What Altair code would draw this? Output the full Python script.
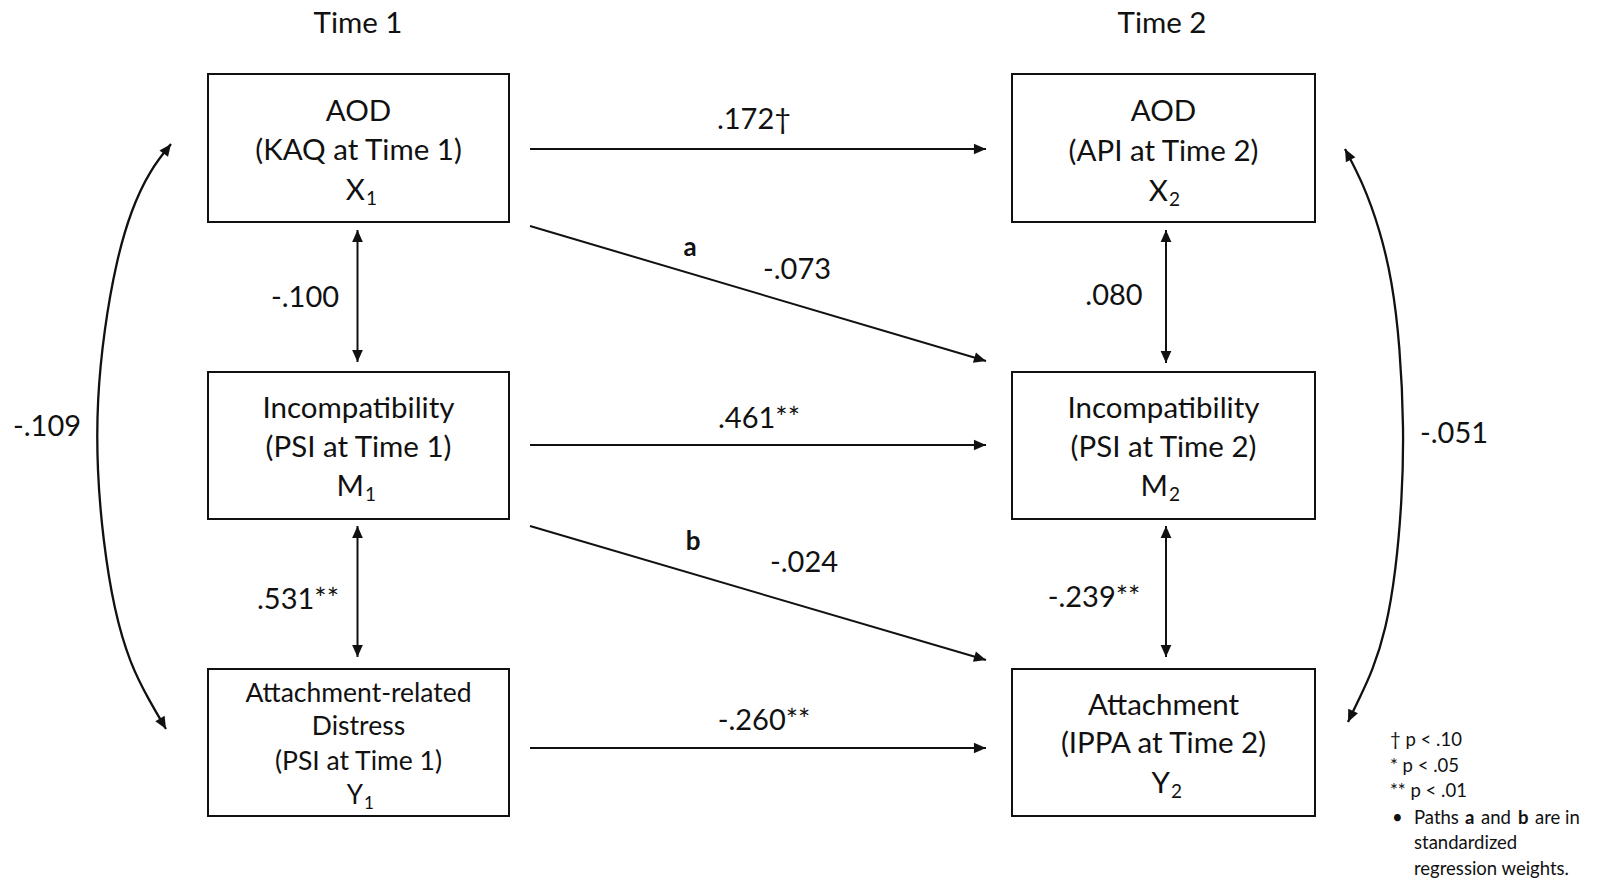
import altair as alt
import pandas as pd
import math

# ---------------- data (text content and coefficients) ----------------
time_labels = ["Time 1", "Time 2"]
box_ids = ["X1", "M1", "Y1", "X2", "M2", "Y2"]
box_lines = [
    ["AOD", "(KAQ at Time 1)"],
    ["Incompatibility", "(PSI at Time 1)"],
    ["Attachment-related", "Distress", "(PSI at Time 1)"],
    ["AOD", "(API at Time 2)"],
    ["Incompatibility", "(PSI at Time 2)"],
    ["Attachment", "(IPPA at Time 2)"],
]
box_symbols = ["X", "M", "Y", "X", "M", "Y"]
box_subscripts = ["1", "1", "1", "2", "2", "2"]

path_labels = [".172†", "-.073", ".461**", "-.024", "-.260**",
               "-.100", ".531**", ".080", "-.239**", "-.109", "-.051"]
path_tags = ["a", "b"]
legend_lines = ["† p < .10", "* p < .05", "** p < .01"]
note_bullet = "•"
note_segments = ["Paths", "a", "and", "b", "are in"]
note_bold = [False, True, False, True, False]
note_more = ["standardized", "regression weights."]

# ---------------- layout (pixel positions in the 1597x880 page) ----------------
W, H = 1581, 872
FONT = "Lato"
INK = "#111111"
TDY = 2  # small vertical nudge for text

box_rects = {
    "X1": (208, 509, 74, 222), "M1": (208, 509, 372, 519), "Y1": (208, 509, 669, 816),
    "X2": (1012, 1315, 74, 222), "M2": (1012, 1315, 372, 519), "Y2": (1012, 1315, 669, 816),
}
box_line_y = {
    "X1": [110, 149], "M1": [407, 446], "Y1": [692, 725, 760],
    "X2": [110, 150], "M2": [407, 446], "Y2": [704, 742],
}
box_sym_y = {"X1": 189, "M1": 485, "Y1": 794, "X2": 190, "M2": 485, "Y2": 782}
box_sym_x = {"X1": 365, "M1": 364, "Y1": 363, "X2": 1168, "M2": 1168, "Y2": 1170}
time_pos = [(358, 22), (1162, 22)]

path_label_pos = [(754, 118), (797, 268), (759, 417), (804, 561), (764, 719),
                  (305, 296), (298, 598), (1114, 294), (1094, 596), (47, 425), (1454, 432)]
tag_pos = [(690, 246), (693, 540)]

# straight arrows: (x1, y1, x2, y2, double-headed)
straight = [
    (530, 149, 986, 149, False),
    (530, 226, 986, 361, False),
    (530, 445, 986, 445, False),
    (530, 526, 986, 660, False),
    (530, 748, 986, 748, False),
    (357.5, 230, 357.5, 362, True),
    (357.5, 526, 357.5, 657, True),
    (1166, 230, 1166, 363, True),
    (1166, 526, 1166, 657, True),
]
# curved correlation arcs (control points read along each arc)
arcs = [
    [(171, 144), (150, 170), (131, 210), (116, 262), (104, 330), (97, 400),
     (97, 470), (103, 540), (114, 610), (130, 664), (150, 702), (166, 729)],
    [(1345, 149), (1363, 183), (1380, 230), (1392, 280), (1400, 345), (1404, 430),
     (1402, 500), (1396, 570), (1386, 630), (1372, 672), (1360, 697), (1348, 722)],
]
arc_head_angles = [(37, 150), (332, 205)]

legend_x = 1390
legend_y = [738, 764, 789]
note_y = [816, 841, 867]
note_x = [1414, 1465, 1481, 1518, 1535]

# ---------------- build tables ----------------
rect_df = pd.DataFrame([
    {"x": r[0], "x2": r[1], "y": r[2], "y2": r[3]} for r in box_rects.values()
])

rule_rows, head_rows = [], []
for (x1, y1, x2, y2, dbl) in straight:
    rule_rows.append({"x": x1, "y": y1, "x2": x2, "y2": y2})
    ang = math.degrees(math.atan2(x2 - x1, -(y2 - y1))) % 360
    head_rows.append({"x": x2, "y": y2, "angle": ang})
    if dbl:
        head_rows.append({"x": x1, "y": y1, "angle": (ang + 180) % 360})
rule_df = pd.DataFrame(rule_rows)

arc_rows = []
for k, pts in enumerate(arcs):
    for i, (x, y) in enumerate(pts):
        arc_rows.append({"x": x, "y": y, "arc": k, "i": i})
    head_rows.append({"x": pts[0][0], "y": pts[0][1], "angle": arc_head_angles[k][0]})
    head_rows.append({"x": pts[-1][0], "y": pts[-1][1], "angle": arc_head_angles[k][1]})
arc_df = pd.DataFrame(arc_rows)
head_df = pd.DataFrame(head_rows)

box_rows, small_rows, coef_rows, time_rows = [], [], [], []
for (t, (x, y)) in zip(time_labels, time_pos):
    time_rows.append({"x": x, "y": y, "text": t})
for bid, lines in zip(box_ids, box_lines):
    r = box_rects[bid]
    cx = (r[0] + r[1]) / 2
    for line, y in zip(lines, box_line_y[bid]):
        (small_rows if bid == "Y1" else box_rows).append({"x": cx, "y": y, "text": line})
for lab, (x, y) in zip(path_labels, path_label_pos):
    coef_rows.append({"x": x, "y": y, "text": lab})
box_df = pd.DataFrame(box_rows)
small_df = pd.DataFrame(small_rows)
coef_df = pd.DataFrame(coef_rows)
time_df = pd.DataFrame(time_rows)

sym_rows, sub_rows = [], []
for bid, s, sub in zip(box_ids, box_symbols, box_subscripts):
    sym_rows.append({"x": box_sym_x[bid], "y": box_sym_y[bid], "text": s,
                     "size": 26 if bid == "Y1" else 29.5})
    sub_rows.append({"x": box_sym_x[bid] + 1, "y": box_sym_y[bid] + 8, "text": sub,
                     "size": 17 if bid == "Y1" else 19})
sym_df = pd.DataFrame(sym_rows)
sub_df = pd.DataFrame(sub_rows)

tag_df = pd.DataFrame([{"x": x, "y": y, "text": t} for t, (x, y) in zip(path_tags, tag_pos)])

leg_rows, leg_bold = [], []
for t, y in zip(legend_lines, legend_y):
    leg_rows.append({"x": legend_x, "y": y, "text": t})
leg_rows.append({"x": 1392, "y": note_y[0], "text": note_bullet})
for seg, b, x in zip(note_segments, note_bold, note_x):
    (leg_bold if b else leg_rows).append({"x": x, "y": note_y[0], "text": seg})
for t, y in zip(note_more, note_y[1:]):
    leg_rows.append({"x": note_x[0], "y": y, "text": t})
leg_df = pd.DataFrame(leg_rows)
legb_df = pd.DataFrame(leg_bold)

# ---------------- chart ----------------
xs = alt.Scale(domain=[8, 8 + W], nice=False, zero=False)
ys = alt.Scale(domain=[8, 8 + H], nice=False, zero=False, reverse=True)
X = lambda f="x": alt.X(f"{f}:Q", scale=xs, axis=None)
Y = lambda f="y": alt.Y(f"{f}:Q", scale=ys, axis=None)

boxes = alt.Chart(rect_df).mark_rect(fill="white", stroke=INK, strokeWidth=2).encode(
    x=X(), x2="x2:Q", y=Y(), y2="y2:Q")

rules = alt.Chart(rule_df).mark_rule(color=INK, strokeWidth=2).encode(
    x=X(), x2="x2:Q", y=Y(), y2="y2:Q")

arc_lines = alt.Chart(arc_df).mark_line(color=INK, strokeWidth=2.3, interpolate="basis").encode(
    x=X(), y=Y(), detail="arc:N", order="i:Q")

heads = alt.Chart(head_df).mark_point(
    shape="M0,0L-0.8,1.8L0.8,1.8Z", filled=True, color=INK, opacity=1, size=180, strokeWidth=0
).encode(x=X(), y=Y(), angle=alt.Angle("angle:Q", scale=None))


def txt(df, size, align="center", weight="normal"):
    return alt.Chart(df).mark_text(font=FONT, fontSize=size, align=align, baseline="middle",
                                   fontWeight=weight, color=INK, dy=TDY).encode(
        x=X(), y=Y(), text="text:N")


time_text = txt(time_df, 29.5)
box_text = txt(box_df, 29.5)
small_text = txt(small_df, 26.5)
coef_text = txt(coef_df, 29)
sym_text = alt.Chart(sym_df).mark_text(font=FONT, align="right", baseline="middle",
                                       color=INK, dy=TDY).encode(
    x=X(), y=Y(), text="text:N", size=alt.Size("size:Q", scale=None))
sub_text = alt.Chart(sub_df).mark_text(font=FONT, align="left", baseline="middle",
                                       color=INK, dy=TDY).encode(
    x=X(), y=Y(), text="text:N", size=alt.Size("size:Q", scale=None))
tag_text = txt(tag_df, 26, weight="bold")
leg_text = txt(leg_df, 18.5, align="left")
legb_text = txt(legb_df, 18.5, align="left", weight="bold")

chart = alt.layer(
    boxes, rules, arc_lines, heads, time_text, box_text, small_text, coef_text, sym_text,
    sub_text, tag_text, leg_text, legb_text
).properties(
    width=W, height=H, padding=0, autosize=alt.AutoSizeParams(type="none"),
    background="white"
).configure_view(stroke=None)

chart.save("out.html", embed_options={"renderer": "svg", "actions": False})
